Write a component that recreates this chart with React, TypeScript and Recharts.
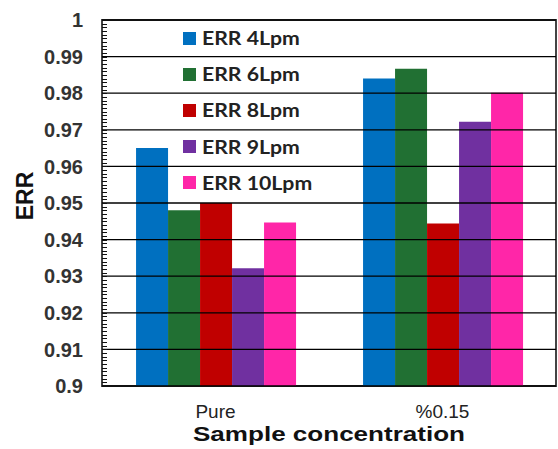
import { Bar, BarChart, Legend, ReferenceArea, ReferenceLine, XAxis, YAxis } from "recharts";

const categories = ["Pure", "%0.15"];
const err4 = [0.965, 0.984];
const err6 = [0.948, 0.9867];
const err8 = [0.95, 0.9444];
const err9 = [0.9322, 0.9722];
const err10 = [0.9447, 0.9801];
const yTicks = [0.9, 0.91, 0.92, 0.93, 0.94, 0.95, 0.96, 0.97, 0.98, 0.99, 1];

const series = [
  { key: "e4", name: "ERR 4Lpm", color: "#0070C0", values: err4 },
  { key: "e6", name: "ERR 6Lpm", color: "#217033", values: err6 },
  { key: "e8", name: "ERR 8Lpm", color: "#C00000", values: err8 },
  { key: "e9", name: "ERR 9Lpm", color: "#7030A0", values: err9 },
  { key: "e10", name: "ERR 10Lpm", color: "#FF26A8", values: err10 },
];

const data = categories.map((name, i) => {
  const row: Record<string, string | number> = { name };
  series.forEach((s) => (row[s.key] = s.values[i]));
  return row;
});

// minor ticks every 0.001 along the y axis
const minorTicks = Array.from({ length: 101 }, (_, i) => Math.round((0.9 + i * 0.001) * 1000) / 1000);

const FONT = "'Liberation Sans', Arial, sans-serif";

const renderLegend = (props: any) => {
  const order = (p: any) => series.findIndex((s) => s.name === p.value);
  const items = (props.payload || []).filter((p: any) => order(p) >= 0).sort((a: any, b: any) => order(a) - order(b));
  return (
    <div>
      {items.map((p: any) => (
        <div key={p.value} style={{ height: 36.2, display: "flex", alignItems: "center" }}>
          <span style={{ width: 13, height: 13, background: p.color, display: "inline-block", marginRight: 6 }} />
          <span
            style={{
              fontFamily: "Lato, sans-serif",
              fontWeight: 700,
              fontSize: 18,
              color: "#222",
              display: "inline-block",
              transform: "scaleX(1.18)",
              transformOrigin: "left center",
            }}
          >
            {p.value}
          </span>
        </div>
      ))}
    </div>
  );
};

const XTick = (props: any) => (
  <text x={props.x} y={418} textAnchor="middle" fontFamily={FONT} fontSize={19} fill="#222">
    {props.payload.value}
  </text>
);

const YTick = (props: any) => (
  <text
    x={props.x}
    y={props.y}
    dy="0.36em"
    textAnchor="end"
    fontFamily={FONT}
    fontSize={20}
    fontWeight={700}
    fill="#333"
  >
    {String(Math.round(props.payload.value * 100) / 100)}
  </text>
);

// short inward mark drawn from the left end of a reference line
const MinorMark = (props: any) => {
  const y = Math.round(props.y1) + 0.5;
  return <line x1={props.x1} x2={props.x1 + 5} y1={y} y2={y} stroke="#111" strokeWidth={1} />;
};

const renderYLabel = (props: any) => {
  const vb = props.viewBox;
  const x = 33;
  const y = vb.y + vb.height / 2 - 7;
  return (
    <text
      x={x}
      y={y}
      transform={`rotate(-90 ${x} ${y})`}
      textAnchor="middle"
      fontFamily={FONT}
      fontWeight={700}
      fontSize={23}
      fill="#111"
    >
      ERR
    </text>
  );
};

const renderXLabel = (props: any) => {
  const vb = props.viewBox;
  return (
    <text
      x={vb.x + vb.width / 2}
      y={441}
      textAnchor="middle"
      fontFamily={FONT}
      fontWeight={700}
      fontSize={21}
      fill="#111"
      textLength={272}
      lengthAdjust="spacingAndGlyphs"
    >
      Sample concentration
    </text>
  );
};

export default function App() {
  return (
    <div style={{ position: "absolute", left: 0, top: 0, background: "#fff" }}>
      <BarChart
        width={558}
        height={449}
        data={data}
        margin={{ top: 20, right: 2, bottom: 0, left: 0 }}
        barCategoryGap="15%"
        barGap={0}
      >
        <XAxis
          dataKey="name"
          height={63}
          tickLine={false}
          axisLine={false}
          tick={<XTick />}
          label={renderXLabel}
        />
        <YAxis
          width={102}
          domain={[0.9, 1]}
          ticks={yTicks}
          interval={0}
          type="number"
          allowDataOverflow
          tickLine={false}
          axisLine={false}
          tickSize={0}
          tickMargin={19}
          tick={<YTick />}
          label={renderYLabel}
        />
        {yTicks.map((t) => (
          <ReferenceLine key={t} y={t} stroke="#000" strokeWidth={1.3} />
        ))}
        {series.map((s) => (
          <Bar key={s.key} dataKey={s.key} name={s.name} fill={s.color} isAnimationActive={false} />
        ))}
        <ReferenceArea y1={0.9} y2={1} fill="none" stroke="#444" strokeWidth={2} fillOpacity={0} />
        {minorTicks.map((t) => (
          <ReferenceLine key={`m${t}`} y={t} shape={<MinorMark />} />
        ))}
        <Legend
          layout="vertical"
          align="center"
          verticalAlign="middle"
          content={renderLegend}
          wrapperStyle={{ left: 183, top: 20, width: 170, height: 182 }}
        />
      </BarChart>
    </div>
  );
}
